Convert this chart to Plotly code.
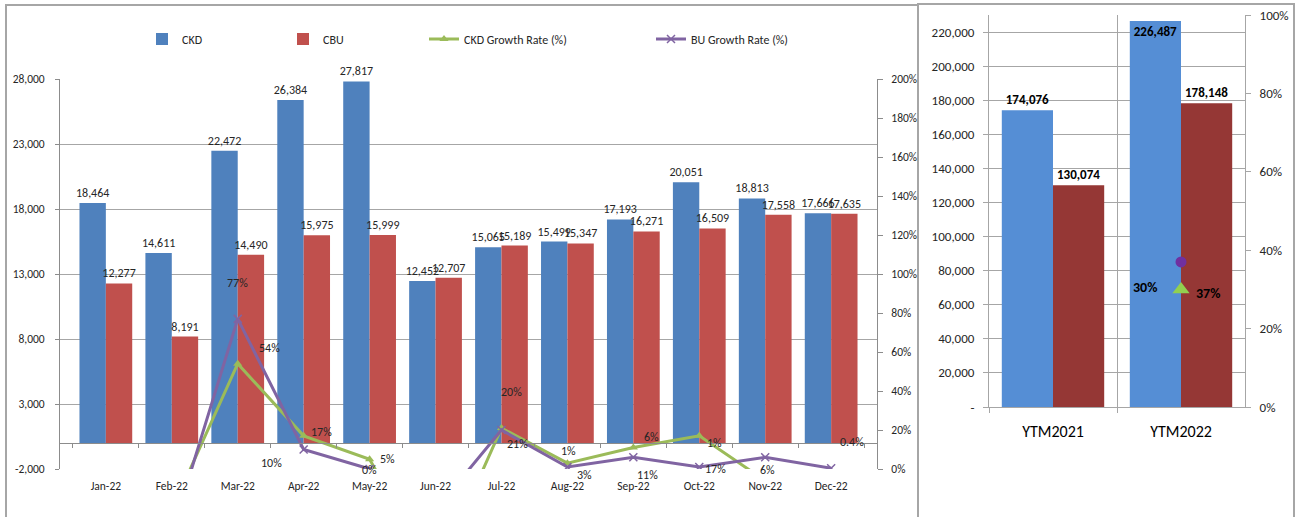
import plotly.graph_objects as go

W, H = 1304, 517
FONT = "Calibri, Carlito, Lato, sans-serif"

# ---------------- data: monthly chart ----------------
months = ["Jan-22", "Feb-22", "Mar-22", "Apr-22", "May-22", "Jun-22",
          "Jul-22", "Aug-22", "Sep-22", "Oct-22", "Nov-22", "Dec-22"]
ckd = [18464, 14611, 22472, 26384, 27817, 12452, 15065, 15499, 17193, 20051, 18813, 17666]
cbu = [12277, 8191, 14490, 15975, 15999, 12707, 15189, 15347, 16271, 16509, 17558, 17635]
ckd_growth = [None, -21, 54, 17, 5, -55, 21, 3, 11, 17, -6, -6]
cbu_growth = [None, -33, 77, 10, 0, -21, 20, 1, 6, 1, 6, 0.4]

left_ticks = [-2000, 3000, 8000, 13000, 18000, 23000, 28000]
left_tick_labels = ["-2,000", "3,000", "8,000", "13,000", "18,000", "23,000", "28,000"]
pct_ticks_left = [0, 20, 40, 60, 80, 100, 120, 140, 160, 180, 200]
pct_labels_left = ["0%", "20%", "40%", "60%", "80%", "100%", "120%", "140%", "160%", "180%", "200%"]

# ---------------- data: YTM chart ----------------
ytm_cats = ["YTM2021", "YTM2022"]
ytm_ckd = [174076, 226487]
ytm_cbu = [130074, 178148]
ytm_ckd_growth = [None, 30]
ytm_cbu_growth = [None, 37]
right_ticks = [0, 20000, 40000, 60000, 80000, 100000, 120000, 140000, 160000, 180000, 200000, 220000]
right_tick_labels = ["-", "20,000", "40,000", "60,000", "80,000", "100,000", "120,000",
                     "140,000", "160,000", "180,000", "200,000", "220,000"]
pct_ticks_right = [0, 20, 40, 60, 80, 100]
pct_labels_right = ["0%", "20%", "40%", "60%", "80%", "100%"]

# label offsets (pixels) for growth-rate labels: month -> (dx, dy)
ckd_label_off = {"Mar-22": (32, 16), "Apr-22": (18, 4), "May-22": (18, 0), "Jul-22": (16, -16),
                 "Aug-22": (17, -12), "Sep-22": (14, -27), "Oct-22": (16, -33)}
cbu_label_off = {"Mar-22": (0, 36), "Apr-22": (-32, -13), "May-22": (0, -1), "Jul-22": (10, 38),
                 "Aug-22": (1, 16), "Sep-22": (18, 20), "Oct-22": (15, 24), "Nov-22": (2, -13),
                 "Dec-22": (21, 26)}

# ---------------- geometry ----------------
def px_x(p):
    return p / W

def px_y(p):
    return 1 - p / H

L_X = [px_x(60), px_x(877)]
L_Y = [px_y(469), px_y(79)]
R_X = [px_x(989), px_x(1245)]
R_Y = [px_y(407), px_y(15)]
lrange = [left_ticks[0], left_ticks[-1]]
zero_pos = L_Y[0] + (0 - lrange[0]) / (lrange[1] - lrange[0]) * (L_Y[1] - L_Y[0])

GRID = "#A6A6A6"
AXC = "#8C8C8C"
TXT = "#262626"
LBL = 12

fig = go.Figure()

# left chart bars
fig.add_trace(go.Bar(x=months, y=ckd, name="CKD", marker=dict(color="#4F81BD", line=dict(width=0)),
                     texttemplate="%{y:,}", textposition="outside", constraintext="none", cliponaxis=False,
                     textfont=dict(family=FONT, size=LBL, color=TXT), xaxis="x", yaxis="y",
                     legend="legend"))
fig.add_trace(go.Bar(x=months, y=cbu, name="CBU", marker=dict(color="#C0504D", line=dict(width=0)),
                     texttemplate="%{y:,}", textposition="outside", constraintext="none", cliponaxis=False,
                     textfont=dict(family=FONT, size=LBL, color=TXT), xaxis="x", yaxis="y",
                     legend="legend2"))
# growth lines
fig.add_trace(go.Scatter(x=months, y=ckd_growth, name="CKD Growth Rate (%)", mode="lines+markers",
                         line=dict(color="#9BBB59", width=3),
                         marker=dict(symbol="triangle-up", size=8, color="#9BBB59"),
                         xaxis="x", yaxis="y2", legend="legend3"))
fig.add_trace(go.Scatter(x=months, y=cbu_growth, name="BU Growth Rate (%)", mode="lines+markers",
                         line=dict(color="#8064A2", width=3),
                         marker=dict(symbol="x-thin", size=8, color="#8064A2",
                                     line=dict(color="#8064A2", width=1.5)),
                         xaxis="x", yaxis="y2", legend="legend4"))

annotations = []
for series, offs in ((ckd_growth, ckd_label_off), (cbu_growth, cbu_label_off)):
    for m, v in zip(months, series):
        if m in offs and v is not None:
            dx, dy = offs[m]
            annotations.append(dict(x=m, y=v, xref="x", yref="y2", text=f"{v:g}%", showarrow=False,
                                    xshift=dx, yshift=dy, font=dict(family=FONT, size=LBL, color=TXT)))

# right chart bars
fig.add_trace(go.Bar(x=ytm_cats, y=ytm_ckd, name="CKD", showlegend=False,
                     marker=dict(color="#558ED5", line=dict(width=0)),
                     texttemplate="<b>%{y:,}</b>", textposition=["outside", "inside"],
                     insidetextanchor="end", constraintext="none",
                     cliponaxis=False, textfont=dict(family=FONT, size=13, color="#000000"),
                     xaxis="x2", yaxis="y3"))
fig.add_trace(go.Bar(x=ytm_cats, y=ytm_cbu, name="CBU", showlegend=False,
                     marker=dict(color="#953735", line=dict(width=0)),
                     texttemplate="<b>%{y:,}</b>", textposition="outside", constraintext="none",
                     cliponaxis=False, textfont=dict(family=FONT, size=13, color="#000000"),
                     xaxis="x2", yaxis="y3"))
fig.add_trace(go.Scatter(x=ytm_cats, y=ytm_cbu_growth, name="BU Growth Rate (%)", showlegend=False,
                         mode="markers", marker=dict(symbol="circle", size=11, color="#7030A0"),
                         xaxis="x2", yaxis="y4"))
fig.add_trace(go.Scatter(x=ytm_cats, y=ytm_ckd_growth, name="CKD Growth Rate (%)", showlegend=False,
                         mode="markers", marker=dict(symbol="triangle-up", size=15, color="#92D050"),
                         xaxis="x2", yaxis="y4"))
annotations.append(dict(x=ytm_cats[1], y=ytm_ckd_growth[1], xref="x2", yref="y4",
                        text=f"<b>{ytm_ckd_growth[1]}%</b>", showarrow=False, xshift=-36, yshift=2,
                        font=dict(family=FONT, size=14, color="#000000")))
annotations.append(dict(x=ytm_cats[1], y=ytm_cbu_growth[1], xref="x2", yref="y4",
                        text=f"<b>{ytm_cbu_growth[1]}%</b>", showarrow=False, xshift=27, yshift=-32,
                        font=dict(family=FONT, size=14, color="#000000")))

# panel borders
shapes = [
    dict(type="rect", xref="paper", yref="paper", x0=px_x(6), x1=px_x(918), y0=-0.02, y1=px_y(5),
         line=dict(color="#A6A6A6", width=2), fillcolor="rgba(0,0,0,0)", layer="below"),
    dict(type="rect", xref="paper", yref="paper", x0=px_x(918), x1=px_x(1294), y0=-0.02, y1=px_y(4),
         line=dict(color="#A6A6A6", width=2), fillcolor="rgba(0,0,0,0)", layer="below"),
]

tickfont = dict(family=FONT, size=11.5, color=TXT)

legend_common = dict(orientation="h", yanchor="middle", y=px_y(39), xanchor="left",
                     font=dict(family=FONT, size=12, color=TXT), bgcolor="rgba(0,0,0,0)",
                     itemwidth=30, borderwidth=0)

fig.update_layout(
    width=W, height=H, margin=dict(l=0, r=0, t=0, b=0, autoexpand=False),
    paper_bgcolor="white", plot_bgcolor="white",
    barmode="group", bargap=0.2, bargroupgap=0,
    font=dict(family=FONT, color=TXT),
    xaxis=dict(domain=L_X, type="category", anchor="free", position=zero_pos, automargin=False,
               tickson="boundaries", ticks="outside", ticklen=4, tickcolor=AXC,
               showline=True, linecolor=AXC, linewidth=1, showgrid=False,
               ticklabelstandoff=32, tickfont=tickfont),
    yaxis=dict(domain=L_Y, range=lrange, tickvals=left_ticks, ticktext=left_tick_labels,
               showgrid=True, gridcolor=GRID, gridwidth=1, zeroline=False, automargin=False,
               showline=True, linecolor=AXC, ticks="outside", ticklen=4, tickcolor=AXC,
               tickfont=tickfont, anchor="x", ticklabelstandoff=8),
    yaxis2=dict(overlaying="y", side="right", anchor="x", range=[pct_ticks_left[0], pct_ticks_left[-1]],
                tickvals=pct_ticks_left, ticktext=pct_labels_left, showgrid=False, zeroline=False,
                showline=True, linecolor=AXC, ticks="outside", ticklen=5, tickcolor=AXC,
                tickfont=tickfont, ticklabelstandoff=6, automargin=False),
    xaxis2=dict(domain=R_X, type="category", anchor="y3", tickson="boundaries", ticks="outside",
                ticklen=5, tickcolor=GRID, showgrid=True, gridcolor=GRID, showline=True, linecolor=GRID,
                tickfont=dict(family=FONT, size=16, color="#000000"), ticklabelstandoff=10,
                automargin=False),
    yaxis3=dict(domain=R_Y, anchor="x2", range=[0, 230000], tickvals=right_ticks,
                ticktext=right_tick_labels, showgrid=True, gridcolor=GRID, zeroline=False,
                showline=True, linecolor=GRID, ticks="outside", ticklen=5, tickcolor=GRID,
                tickfont=dict(family=FONT, size=13, color=TXT), ticklabelstandoff=6, automargin=False),
    yaxis4=dict(overlaying="y3", side="right", anchor="x2",
                range=[pct_ticks_right[0], pct_ticks_right[-1]],
                tickvals=pct_ticks_right, ticktext=pct_labels_right, showgrid=False, zeroline=False,
                showline=True, linecolor=GRID, ticks="outside", ticklen=5, tickcolor=GRID,
                tickfont=dict(family=FONT, size=13, color=TXT), ticklabelstandoff=6, automargin=False),
    legend=dict(legend_common, x=px_x(142)),
    legend2=dict(legend_common, x=px_x(283)),
    legend3=dict(legend_common, x=px_x(424)),
    legend4=dict(legend_common, x=px_x(651)),
    annotations=annotations,
    shapes=shapes,
)

fig.write_html("out.html")
